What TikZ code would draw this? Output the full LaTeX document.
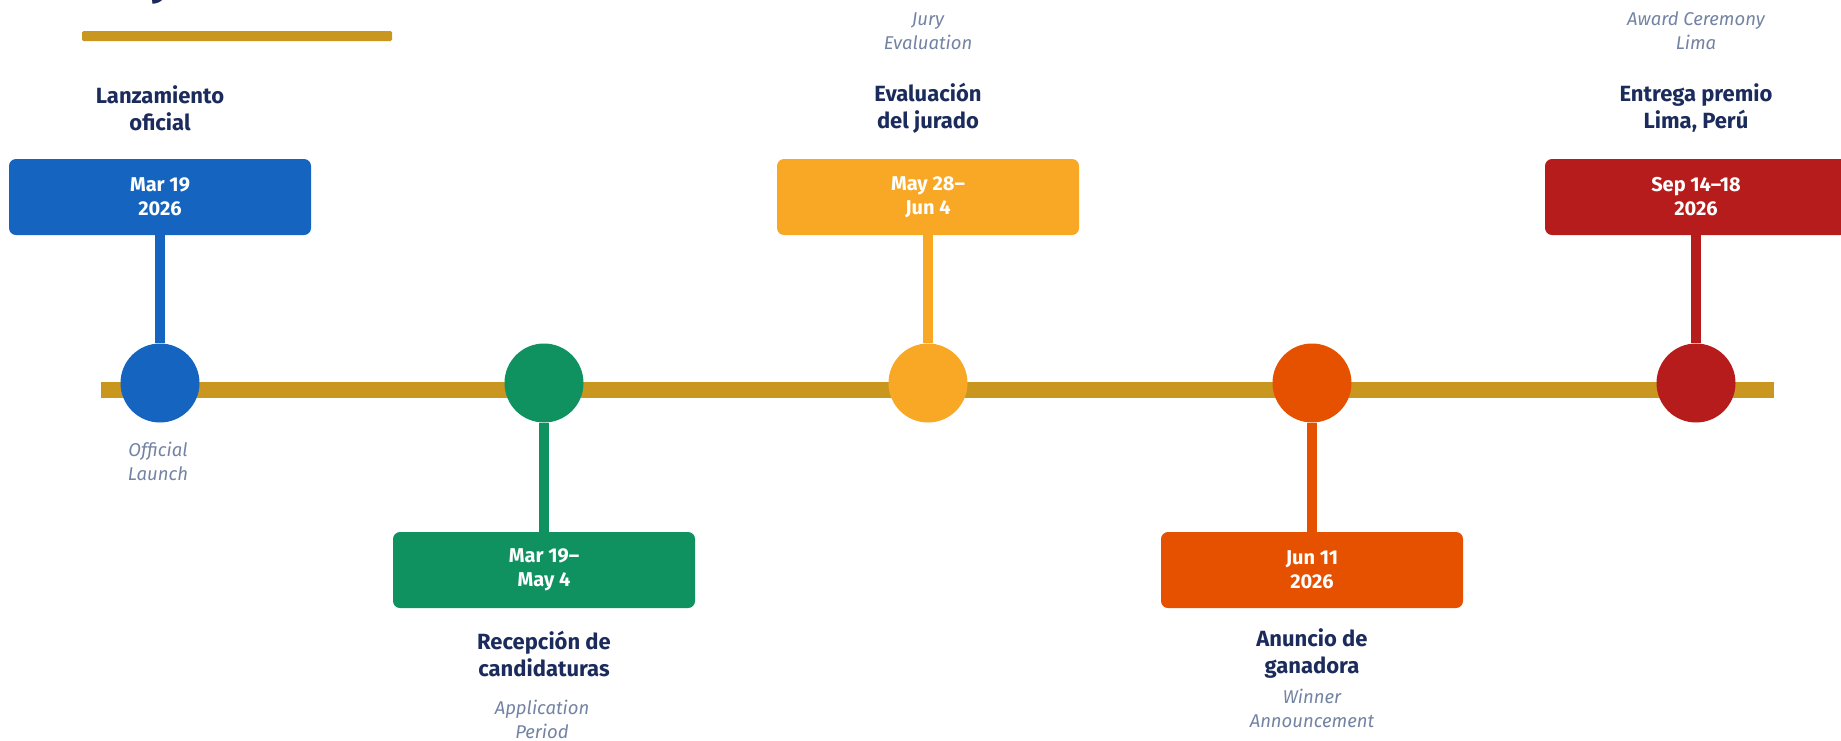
\documentclass[tikz,border=0pt]{standalone}
\usepackage{fontspec}
\setmainfont{Fira Sans}
\definecolor{cblue}{HTML}{1565C0}
\definecolor{cgreen}{HTML}{0F9160}
\definecolor{cyellow}{HTML}{F9A825}
\definecolor{corange}{HTML}{E65100}
\definecolor{cred}{HTML}{B71C1C}
\definecolor{cgold}{HTML}{C9971F}
\definecolor{navy}{HTML}{1B2B5B}
\definecolor{engrey}{HTML}{7383A3}
\begin{document}
\begin{tikzpicture}[x=1pt,y=-1pt,
  title/.style={font=\fontsize{22}{27}\selectfont\bfseries, text=navy, align=center, inner sep=0pt},
  eng/.style={font=\fontsize{18.5}{24}\selectfont\itshape, text=engrey, align=center, inner sep=0pt},
  datebox/.style={rounded corners=7pt, minimum width=302pt, minimum height=76pt, text=white,
    font=\fontsize{20}{24}\selectfont\bfseries, align=center, inner sep=0pt},
  dot/.style={circle, minimum size=79pt, inner sep=0pt},
  stem/.style={line width=10pt}]
\useasboundingbox (0,0) rectangle (1841,740);
% cut-off heading fragment
\node[font=\fontsize{44}{50}\selectfont\bfseries, text=navy, anchor=base, inner sep=0pt] (head) at (162,-6) {y};
% heading underline
\fill[cgold, rounded corners=1.5pt] (82,31) rectangle (392,41);
% timeline
\coordinate (ls) at (101,390);
\coordinate (le) at (1774,390);
\draw[cgold, line width=16pt] (ls) -- (le);
% dots
\node[dot, fill=cblue]   (d1) at (160,383) {};
\node[dot, fill=cgreen]  (d2) at (544,383) {};
\node[dot, fill=cyellow] (d3) at (928,383) {};
\node[dot, fill=corange] (d4) at (1312,383) {};
\node[dot, fill=cred]    (d5) at (1696,383) {};
% date boxes
\node[datebox, fill=cblue]   (b1) at (160,197) {Mar 19\\2026};
\node[datebox, fill=cgreen]  (b2) at (544,570) {Mar 19–\\May 4};
\node[datebox, fill=cyellow] (b3) at (928,197) {May 28–\\Jun 4};
\node[datebox, fill=corange] (b4) at (1312,570) {Jun 11\\2026};
\node[datebox, fill=cred]    (b5) at (1696,197) {Sep 14–18\\2026};
% stems
\draw[stem, cblue]   (b1.south) -- (d1.north);
\draw[stem, cgreen]  (b2.north) -- (d2.south);
\draw[stem, cyellow] (b3.south) -- (d3.north);
\draw[stem, corange] (b4.north) -- (d4.south);
\draw[stem, cred]    (b5.south) -- (d5.north);
% titles
\node[title] (t1) at (160,108.5) {Lanzamiento\\oficial};
\node[title] (t2) at (544,654) {Recepción de\\candidaturas};
\node[title] (t3) at (928,108.5) {Evaluación\\del jurado};
\node[title] (t4) at (1312,654) {Anuncio de\\ganadora};
\node[title] (t5) at (1696,108.5) {Entrega premio\\Lima, Perú};
% english
\node[eng] (e1) at (158,461) {Official\\Launch};
\node[eng] (e2) at (542,719) {Application\\Period};
\node[eng] (e3) at (928,31) {Jury\\Evaluation};
\node[eng] (e4) at (1312,708.5) {Winner\\Announcement};
\node[eng] (e5) at (1696,30.5) {Award Ceremony\\Lima};
\end{tikzpicture}
\end{document}
